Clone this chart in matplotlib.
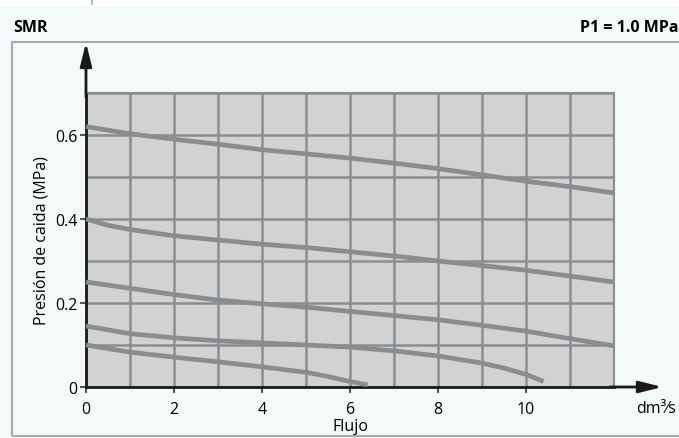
import numpy as np
import matplotlib.pyplot as plt
from matplotlib.patches import Rectangle
from matplotlib.lines import Line2D

# flow (dm3/s) vs pressure drop (MPa), one list pair per curve
flow_a = [0, 1, 2, 3, 4, 5, 6, 7, 8, 9, 10, 11, 12]
drop_a = [0.62, 0.603, 0.59, 0.578, 0.565, 0.555, 0.545, 0.533, 0.52, 0.505, 0.49, 0.477, 0.462]
flow_b = [0, 0.5, 1, 2, 3, 4, 5, 6, 7, 8, 9, 10, 11, 12]
drop_b = [0.40, 0.385, 0.375, 0.36, 0.35, 0.34, 0.332, 0.322, 0.312, 0.30, 0.289, 0.278, 0.264, 0.25]
flow_c = [0, 1, 2, 3, 4, 5, 6, 7, 8, 9, 10, 11, 12]
drop_c = [0.25, 0.235, 0.22, 0.207, 0.198, 0.19, 0.18, 0.17, 0.16, 0.147, 0.133, 0.115, 0.098]
flow_d = [0, 1, 2, 3, 4, 5, 6, 7, 8, 9, 9.5, 10, 10.4]
drop_d = [0.145, 0.127, 0.117, 0.11, 0.105, 0.1, 0.095, 0.086, 0.074, 0.057, 0.045, 0.03, 0.013]
flow_e = [0, 1, 2, 3, 4, 5, 5.5, 6, 6.4]
drop_e = [0.10, 0.083, 0.071, 0.06, 0.048, 0.035, 0.025, 0.013, 0.005]

x_ticks = [0, 2, 4, 6, 8, 10]
y_ticks = [0, 0.2, 0.4, 0.6]
y_tick_labels = ["0", "0.2", "0.4", "0.6"]

plt.rcParams['font.family'] = ['Open Sans', 'DejaVu Sans']

W, H = 679, 439
fig = plt.figure(figsize=(W / 100, H / 100), dpi=100)
fig.patch.set_facecolor('white')

bg = '#f4f9f9'
grid_c = '#8b8e90'
curve_c = '#8a8d8f'
fs = 11.5

# light background strip and framed box (behind the axes)
fig.patches.append(Rectangle((0, 0), 1, 1 - 8 / H, transform=fig.transFigure,
                             facecolor=bg, edgecolor='none', zorder=-3))
fig.patches.append(Rectangle((12 / W, 2 / H), 1, (437 - 43) / H, transform=fig.transFigure,
                             facecolor='none', edgecolor='#a7abad', lw=1.5, zorder=-2))
fig.lines.append(Line2D([92 / W, 92 / W], [1, 1 - 5 / H], transform=fig.transFigure,
                        color='#a7abad', lw=1.2))

fig.text(13 / W, 1 - 28 / H, "SMR", fontsize=11.5, fontweight='bold', va='center', ha='left',
         family=['Liberation Sans Narrow', 'Open Sans'])
fig.text(678 / W, 1 - 28 / H, "P1 = 1.0 MPa", fontsize=11.5, fontweight='bold', va='center', ha='right',
         family=['Liberation Sans Narrow', 'Open Sans'])

ax = fig.add_axes([86 / W, 1 - 388 / H, (614 - 86) / W, (388 - 94) / H])
ax.set_facecolor('#d2d2d2')
ax.set_xlim(0, 12)
ax.set_ylim(0, 0.7)

ax.set_xticks(x_ticks)
ax.set_xticks(np.arange(0, 13, 1), minor=True)
ax.set_yticks(y_ticks)
ax.set_yticklabels(y_tick_labels)
ax.set_yticks(np.arange(0, 0.71, 0.1), minor=True)
ax.grid(True, which='both', color=grid_c, lw=1.8)
ax.set_axisbelow(True)
ax.tick_params(which='major', length=4, width=1.5, color='#555555', labelsize=fs)
ax.tick_params(axis='x', pad=6)
ax.tick_params(axis='y', pad=2)
ax.tick_params(which='minor', length=0)

for s in ['top', 'right']:
    ax.spines[s].set_color(grid_c)
    ax.spines[s].set_linewidth(1.5)
for s in ['left', 'bottom']:
    ax.spines[s].set_color('#1a1a1a')
    ax.spines[s].set_linewidth(2)

for fx, dy in [(flow_a, drop_a), (flow_b, drop_b), (flow_c, drop_c),
               (flow_d, drop_d), (flow_e, drop_e)]:
    ax.plot(fx, dy, color=curve_c, lw=3.4, solid_capstyle='butt', zorder=3)

# axis arrows
ax.annotate('', xy=(0, 0.82), xytext=(0, 0.69), annotation_clip=False,
            arrowprops=dict(arrowstyle='-|>,head_length=1.4,head_width=0.35',
                            color='#1a1a1a', lw=2, shrinkA=0, shrinkB=0))
ax.annotate('', xy=(13.1, 0), xytext=(11.9, 0), annotation_clip=False,
            arrowprops=dict(arrowstyle='-|>,head_length=1.4,head_width=0.35',
                            color='#1a1a1a', lw=2, shrinkA=0, shrinkB=0))

ax.text(12.95, -0.05, "dm³⁄s", fontsize=fs, ha='center', va='center')
ax.text(6, -0.094, "Flujo", fontsize=fs, ha='center', va='center')
ax.set_ylabel("Presión de caida (MPa)", fontsize=fs, labelpad=4)

fig.savefig("out.png", dpi=100, facecolor=fig.get_facecolor())
